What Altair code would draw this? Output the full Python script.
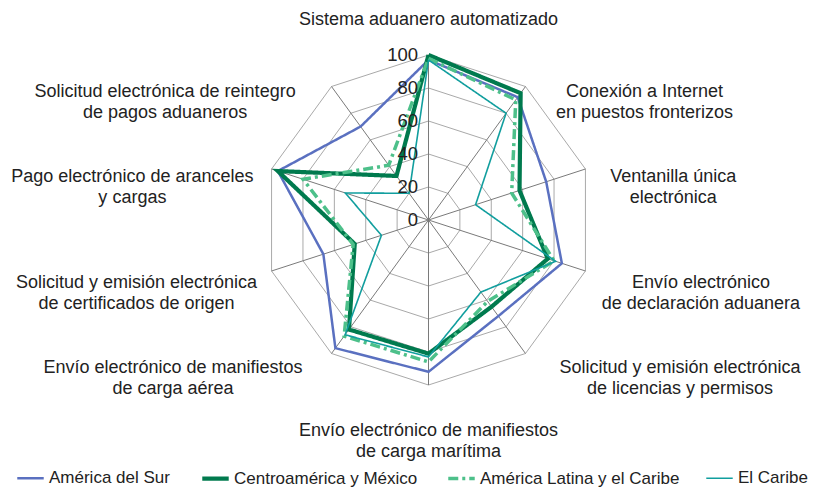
import altair as alt
import pandas as pd
import numpy as np

categories = [
    "Sistema aduanero automatizado",
    "Conexión a Internet\nen puestos fronterizos",
    "Ventanilla única\nelectrónica",
    "Envío electrónico\nde declaración aduanera",
    "Solicitud y emisión electrónica\nde licencias y permisos",
    "Envío electrónico de manifiestos\nde carga marítima",
    "Envío electrónico de manifiestos\nde carga aérea",
    "Solicitud y emisión electrónica\nde certificados de origen",
    "Pago electrónico de aranceles\ny cargas",
    "Solicitud electrónica de reintegro\nde pagos aduaneros",
]
series_names = ["América del Sur", "Centroamérica y México", "América Latina y el Caribe", "El Caribe"]
america_del_sur = [97, 92, 75, 85, 72, 92, 96, 67, 96, 70]
centroamerica_mexico = [100, 95, 58, 76, 65, 81, 82, 47, 96, 33]
america_latina_caribe = [98, 90, 53, 80, 61, 86, 87, 48, 80, 41]
el_caribe = [97, 80, 30, 81, 54, 83, 86, 30, 53, 20]
ticks = [0, 20, 40, 60, 80, 100]

colors = ["#5A70C0", "#007A4E", "#4DC08A", "#119E9E"]
widths = [2.5, 4.2, 3.5, 1.6]
dashes = [[1, 0], [1, 0], [10, 4, 3, 4], [1, 0]]

FONT = "Liberation Sans, Arial, sans-serif"
FS = 18
PX = 1.65  # pixels per value unit
W, H = 812, 481
CX, CY = 420.5, 212.0

n = len(categories)
theta = [2 * np.pi * k / n for k in range(n)]

# series lines
rows = []
for name, vals in zip(series_names, [america_del_sur, centroamerica_mexico, america_latina_caribe, el_caribe]):
    for i in range(n + 1):
        k = i % n
        rows.append({"serie": name, "order": i,
                     "x": vals[k] * np.sin(theta[k]), "y": vals[k] * np.cos(theta[k])})
lines_df = pd.DataFrame(rows)

# grid rings
ring_rows = []
for t in ticks[1:]:
    for i in range(n + 1):
        k = i % n
        ring_rows.append({"ring": t, "order": i, "x": t * np.sin(theta[k]), "y": t * np.cos(theta[k])})
rings_df = pd.DataFrame(ring_rows)

spokes_df = pd.DataFrame({"x0": [0.0] * n, "y0": [0.0] * n,
                          "x1": [100 * np.sin(t) for t in theta],
                          "y1": [100 * np.cos(t) for t in theta]})

tick_df = pd.DataFrame({"label": [str(t) for t in ticks], "y": ticks, "x": [-10.5 / PX] * len(ticks)})

# category labels placed outside the outer ring
lab_rows = []
for cat, t in zip(categories, theta):
    s, c = np.sin(t), np.cos(t)
    parts = cat.split("\n")
    nl = len(parts)
    maxlen = max(len(p) for p in parts)
    half = maxlen * 7.9 / 2
    if abs(s) < 0.1:
        off = 165 + 25 + 10.5 * nl
        x = 0.0
        y = np.sign(c) * off / PX
    else:
        gap = 20 + 15 * abs(c)
        cx_px = CX + 100 * s * PX + np.sign(s) * (gap + half)
        cx_px = min(max(cx_px, half + 6), W - half - 6)
        x = (cx_px - CX) / PX
        y = 100 * c - (10 - 5.5 * c) / PX
    lab_rows.append({"label": cat, "x": x, "y": y})
lab_df = pd.DataFrame(lab_rows)

xs = alt.Scale(domain=[-CX / PX, (W - CX) / PX], nice=False, zero=False)
ys = alt.Scale(domain=[-(H - CY) / PX, CY / PX], nice=False, zero=False)
X = lambda f: alt.X(f, type="quantitative", scale=xs, axis=None)
Y = lambda f: alt.Y(f, type="quantitative", scale=ys, axis=None)

rings = alt.Chart(rings_df).mark_line(color="#a9a9a9", strokeWidth=1).encode(
    x=X("x"), y=Y("y"), detail="ring:N", order="order:Q")

spokes = alt.Chart(spokes_df).mark_rule(color="#7a7a7a", strokeWidth=1).encode(
    x=X("x0"), y=Y("y0"), x2="x1", y2="y1")

leg = alt.Legend(title=None, orient="none", legendX=7, legendY=455, direction="horizontal",
                 columns=4, symbolType="stroke", symbolSize=700, labelFontSize=17,
                 labelFont=FONT, labelColor="#222222", columnPadding=23, labelOffset=3,
                 labelLimit=400)

lines = alt.Chart(lines_df).mark_line().encode(
    x=X("x"), y=Y("y"),
    color=alt.Color("serie:N", scale=alt.Scale(type="ordinal", domain=series_names, range=colors), legend=leg),
    strokeWidth=alt.StrokeWidth("serie:N", scale=alt.Scale(type="ordinal", domain=series_names, range=widths)),
    strokeDash=alt.StrokeDash("serie:N", scale=alt.Scale(type="ordinal", domain=series_names, range=dashes)),
    order="order:Q",
)

tick_text = alt.Chart(tick_df).mark_text(align="right", baseline="middle", fontSize=18.5,
                                         font=FONT, color="#222222").encode(
    x=X("x"), y=Y("y"), text="label:N")

labels = alt.Chart(lab_df).mark_text(align="center", baseline="middle", fontSize=FS, font=FONT,
                                     color="#222222", lineBreak="\n", lineHeight=21).encode(
    x=X("x"), y=Y("y"), text="label:N")

chart = alt.layer(rings, spokes, lines, tick_text, labels).properties(
    width=W, height=H, autosize=alt.AutoSizeParams(type="none"),
    padding={"left": 0, "top": 0, "right": 0, "bottom": 0}, background="white",
).configure_view(stroke=None)

chart.save("out.html", embed_options={"renderer": "svg", "actions": False})
